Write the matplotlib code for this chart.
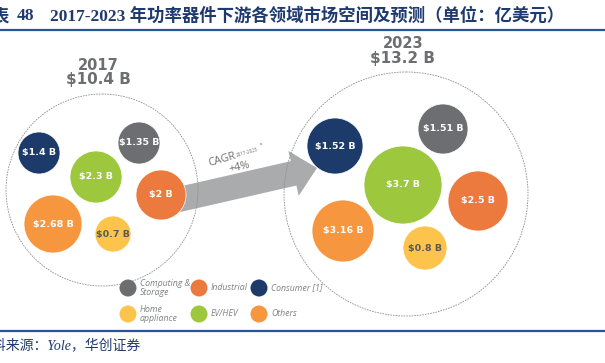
import matplotlib
matplotlib.use("Agg")
import matplotlib.pyplot as plt
from matplotlib.patches import Circle, FancyArrow

# ---------------- data ----------------
segments = ["Computing &\nStorage", "Industrial", "Consumer [1]",
            "Home\nappliance", "EV/HEV", "Others"]
values_2017 = [1.35, 2.0, 1.4, 0.7, 2.3, 2.68]
values_2023 = [1.51, 2.5, 1.52, 0.8, 3.7, 3.16]
years = ["2017", "2023"]
totals = [10.4, 13.2]
cagr_label = "+4%"
title = "2017-2023 年功率器件下游各领域市场空间及预测（单位：亿美元）"
source = "资料来源：Yole，华创证券"

# ---------------- style / layout ----------------
colors = ["#6d6e71", "#ec7a3f", "#1c3b6a", "#fcc44a", "#9dc73c", "#f6973f"]
label_colors = ["white", "white", "white", "#5a5a5a", "white", "white"]
# bubble layout (x, y, radius) in pixel units, same order as segments
layout_2017 = [(139, 143, 21), (161, 195, 25), (39, 153, 21),
               (113, 234, 18), (96, 177, 26), (53, 224, 29)]
layout_2023 = [(443, 129, 25), (478, 201, 30), (335, 146, 28),
               (425, 248, 22), (403, 185, 39), (343, 231, 31)]
big_circles = [(102, 190, 96), (406, 194, 122)]
year_pos = [(98, 65), (403, 44)]

W, H = 605, 363
fig = plt.figure(figsize=(W / 100, H / 100), dpi=100)
ax = fig.add_axes([0, 0, 1, 1])
ax.set_xlim(0, W)
ax.set_ylim(H, 0)
ax.axis("off")

cjk = ["Liberation Serif", "Noto Sans CJK SC"]
navy = "#1f3a6e"
line_blue = "#2a5597"

# title
ax.text(-8, 16, "表", fontsize=12.5, fontweight="bold", family=["Noto Sans CJK SC"],
        color=navy, va="center", ha="left")
ax.text(17, 16, "48", fontsize=12.5, fontweight="bold", family=cjk,
        color=navy, va="center", ha="left")
ax.text(50, 16, title, fontsize=12.5, fontweight="bold", family=cjk,
        color=navy, va="center", ha="left")
ax.plot([0, W], [30, 30], color=line_blue, lw=1.6, solid_capstyle="butt")

# bottom line & source
ax.plot([0, W], [331, 331], color=line_blue, lw=1.6, solid_capstyle="butt")
ax.text(-22, 345, source, fontsize=10, family=["Liberation Serif", "Noto Sans CJK SC"],
        style="italic", color=navy, va="center", ha="left")

# arrow
ax.add_patch(FancyArrow(168, 202, 149, -34, width=25, head_width=46, head_length=24,
                        length_includes_head=True, color="#a9abad", lw=0, zorder=1))
ax.text(222, 160, "CAGR", fontsize=7.8, color="#6d6e71", rotation=16,
        ha="center", va="center", family="Open Sans", zorder=5)
ax.text(247, 152, "2017-2023", fontsize=3.3, color="#6d6e71", rotation=16,
        ha="center", va="center", family="Open Sans", zorder=5)
ax.text(261, 145, "*", fontsize=4, color="#6d6e71", rotation=16,
        ha="center", va="center", family="Open Sans", zorder=5)
ax.text(239, 167, cagr_label, fontsize=7.8, color="#6d6e71", rotation=12,
        ha="center", va="center", family="Open Sans", zorder=5)

# big dashed circles
for (cx, cy, r) in big_circles:
    ax.add_patch(Circle((cx, cy), r, fill=False, edgecolor="#8f8f8f", lw=0.6,
                        linestyle=(0, (2.0, 1.2)), zorder=2))

# year headers
for (x, y), yr, tot in zip(year_pos, years, totals):
    ax.text(x, y, yr, fontsize=10.5, fontweight="bold", color="#6d6e71",
            ha="center", va="center", family="DejaVu Sans")
    ax.text(x, y + 14.5, f"${tot:g} B", fontsize=11, fontweight="bold", color="#6d6e71",
            ha="center", va="center", family="DejaVu Sans")

# bubbles
for layout, vals in ((layout_2017, values_2017), (layout_2023, values_2023)):
    for (x, y, r), v, c, lc in zip(layout, vals, colors, label_colors):
        ax.add_patch(Circle((x, y), r, facecolor=c, edgecolor="white", lw=0.5, zorder=3))
        ax.text(x, y, f"${v:g} B", fontsize=6.8, fontweight="bold", color=lc,
                ha="center", va="center", family="DejaVu Sans", zorder=4)

# legend
leg_x = [128, 199, 259]
leg_y = [288, 314]
for i, (lab, c) in enumerate(zip(segments, colors)):
    row, col = divmod(i, 3)
    x, y = leg_x[col], leg_y[row]
    ax.add_patch(Circle((x, y), 8.5, facecolor=c, edgecolor="none", zorder=3))
    ax.text(x + 12, y, lab, fontsize=6.3, style="italic", color="#808285",
            ha="left", va="center", family="Open Sans", linespacing=0.9)

fig.savefig("out.png", dpi=100)
